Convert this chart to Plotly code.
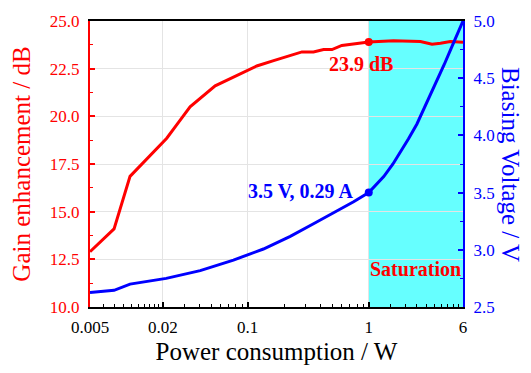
import math
import plotly.graph_objects as go

# Gain enhancement (left axis) versus power consumption
gain_power_w = [0.005, 0.0079, 0.0107, 0.0215, 0.0269, 0.0335, 0.054, 0.079, 0.119,
                0.164, 0.281, 0.35, 0.424, 0.497, 0.60, 1.0, 1.6, 2.67, 3.33, 3.91, 4.72, 6.0]
gain_db = [12.9, 14.1, 16.85, 18.85, 19.68, 20.5, 21.6, 22.1, 22.64,
           22.92, 23.38, 23.37, 23.5, 23.5, 23.72, 23.9, 23.97, 23.92, 23.78, 23.83, 23.92, 23.88]

# Biasing voltage (right axis) versus power consumption
bias_power_w = [0.005, 0.0079, 0.0107, 0.0213, 0.0406, 0.0764, 0.135, 0.225, 0.35,
                0.547, 0.75, 1.0, 1.15, 1.33, 1.585, 1.85, 2.13, 2.5, 2.82, 3.25,
                3.67, 4.2, 4.79, 5.4, 6.0]
bias_v = [2.627, 2.646, 2.70, 2.75, 2.818, 2.91, 3.007, 3.117, 3.228,
          3.339, 3.42, 3.5, 3.565, 3.64, 3.75, 3.86, 3.97, 4.1, 4.22, 4.35,
          4.48, 4.62, 4.76, 4.885, 5.0]

# Highlighted operating point
op_power_w = 1.0
op_gain_db = 23.9
op_bias_v = 3.5
op_current_a = 0.29

# Saturation region span
sat_start, sat_end = 1.0, 6.0

x_tickvals = [0.005, 0.02, 0.1, 1, 6]
x_ticktext = ["0.005", "0.02", "0.1", "1", "6"]
x_minorvals = [0.0065, 0.008, 0.0095, 0.011, 0.0125, 0.014, 0.0155, 0.017, 0.0185,
               0.03, 0.04, 0.05, 0.06, 0.07, 0.08, 0.09,
               0.2, 0.3, 0.4, 0.5, 0.6, 0.7, 0.8, 0.9,
               1.5, 2, 2.5, 3, 3.5, 4, 4.5, 5, 5.5]

RED = "#ff0000"
BLUE = "#0000ff"
FONT = "Times New Roman, Liberation Serif, DejaVu Serif, serif"

fig = go.Figure()

fig.add_trace(go.Scatter(
    x=gain_power_w, y=gain_db, mode="lines",
    line=dict(color=RED, width=3), showlegend=False, yaxis="y"))
fig.add_trace(go.Scatter(
    x=bias_power_w, y=bias_v, mode="lines",
    line=dict(color=BLUE, width=3), showlegend=False, yaxis="y2"))
fig.add_trace(go.Scatter(
    x=[op_power_w], y=[op_gain_db], mode="markers",
    marker=dict(color=RED, size=8), showlegend=False, yaxis="y"))
fig.add_trace(go.Scatter(
    x=[op_power_w], y=[op_bias_v], mode="markers",
    marker=dict(color=BLUE, size=8), showlegend=False, yaxis="y2"))

fig.add_shape(type="rect", xref="x", yref="paper",
              x0=sat_start, x1=sat_end, y0=0, y1=1,
              fillcolor="#66ffff", line=dict(width=0), layer="below")

# annotation x on a log axis is given in log10 units
op_logx = math.log10(op_power_w)

fig.add_annotation(x=op_logx, y=op_gain_db, xref="x", yref="y",
                   text=f"<b>{op_gain_db:.1f} dB</b>", showarrow=False,
                   xshift=-8, yshift=-22,
                   font=dict(family=FONT, size=20, color=RED))

fig.add_annotation(x=op_logx, y=op_bias_v, xref="x", yref="y2",
                   text=f"<b>{op_bias_v:.1f} V, {op_current_a:.2f} A</b>",
                   showarrow=False, xanchor="right", xshift=-14, yshift=2,
                   font=dict(family=FONT, size=20, color=BLUE))

fig.add_annotation(x=(math.log10(sat_start) + math.log10(sat_end)) / 2, y=2.83,
                   xref="x", yref="y2",
                   text="<b>Saturation</b>", showarrow=False,
                   font=dict(family=FONT, size=20, color=RED))

fig.add_annotation(x=1.0, y=0.5, xref="paper", yref="paper",
                   text="Biasing Voltage / V", textangle=90, showarrow=False,
                   xanchor="center", yanchor="middle", xshift=48,
                   font=dict(family=FONT, size=25, color=BLUE))

fig.update_layout(
    width=531, height=373,
    margin=dict(l=90, r=68, t=13, b=59),
    paper_bgcolor="white", plot_bgcolor="white",
    font=dict(family=FONT, size=17, color="black"),
    xaxis=dict(
        type="log", range=[math.log10(0.005), math.log10(6)],
        tickmode="array", tickvals=x_tickvals, ticktext=x_ticktext,
        ticks="inside", ticklen=5, tickwidth=1.5, tickcolor="black",
        tickfont=dict(family=FONT, size=17, color="black"),
        showline=True, linecolor="black", linewidth=2, mirror=True,
        showgrid=True, gridcolor="#e4e4e4", gridwidth=1,
        zeroline=False, ticklabelstandoff=4,
        minor=dict(tickmode="array", tickvals=x_minorvals, ticks="inside",
                   ticklen=3, tickwidth=1.2, tickcolor="black", showgrid=False),
        title=dict(text="Power consumption / W", standoff=6,
                   font=dict(family=FONT, size=25, color="black")),
    ),
    yaxis=dict(
        range=[10, 25], tickmode="linear", tick0=10, dtick=2.5,
        tickformat=".1f",
        ticks="inside", ticklen=5, tickwidth=1.5, tickcolor=RED,
        tickfont=dict(family=FONT, size=17, color=RED),
        showline=True, linecolor=RED, linewidth=2,
        showgrid=True, gridcolor="#e4e4e4", gridwidth=1,
        zeroline=False, ticklabelstandoff=5,
        minor=dict(dtick=1.25, ticks="inside", ticklen=3, tickwidth=1.2,
                   tickcolor=RED, showgrid=False),
        title=dict(text="Gain enhancement / dB", standoff=12,
                   font=dict(family=FONT, size=25, color=RED)),
    ),
    yaxis2=dict(
        overlaying="y", side="right",
        range=[2.5, 5.0], tickmode="linear", tick0=2.5, dtick=0.5,
        tickformat=".1f",
        ticks="inside", ticklen=5, tickwidth=1.5, tickcolor=BLUE,
        tickfont=dict(family=FONT, size=17, color=BLUE),
        showline=True, linecolor=BLUE, linewidth=2,
        showgrid=False, zeroline=False, ticklabelstandoff=5,
        minor=dict(dtick=0.25, ticks="inside", ticklen=3, tickwidth=1.2,
                   tickcolor=BLUE, showgrid=False),
    ),
)

fig.write_html("out.html")
